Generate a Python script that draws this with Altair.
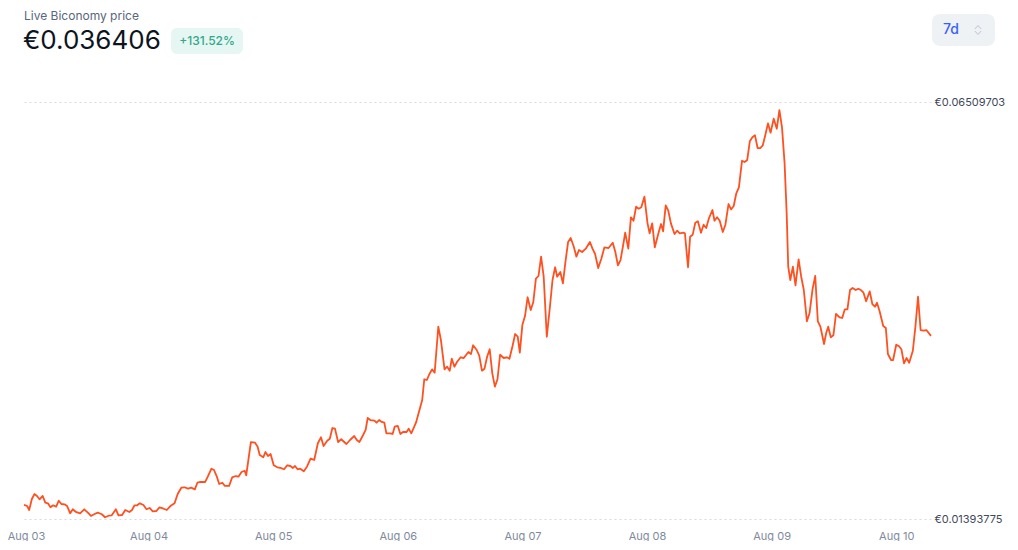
import altair as alt
import pandas as pd

# hours since Aug 03 00:00 and price in EUR
hours = [
    0.0, 0.6, 1.0, 1.5, 2.0, 2.5, 3.0, 3.6, 4.1, 4.6, 5.1, 5.6, 6.2, 6.7, 7.2, 7.8, 8.3, 8.9, 9.4, 10.0,
    10.8, 11.6, 12.3, 12.9, 13.6, 14.2, 15.0, 15.6, 16.3, 16.9, 17.7, 18.2, 18.9, 19.5, 20.3, 20.8, 21.3, 21.8, 22.3, 23.0,
    23.6, 24.2, 24.8, 25.5, 26.1, 26.9, 27.5, 28.2, 29.0, 29.6, 30.3, 30.9, 31.6, 32.2, 32.9, 33.4, 34.0, 34.9, 35.4, 36.1,
    36.6, 37.1, 37.6, 38.2, 38.7, 39.5, 40.1, 40.8, 41.3, 41.9, 42.5, 42.8, 43.7, 44.5, 45.0, 45.4, 46.1, 46.5, 47.0, 47.5,
    48.1, 48.8, 49.4, 50.1, 50.7, 51.3, 51.8, 52.2, 52.7, 53.2, 53.9, 54.5, 55.2, 55.9, 56.6, 57.2, 57.7, 58.4, 58.9, 59.4,
    59.9, 60.5, 61.1, 62.1, 62.8, 63.6, 64.1, 64.6, 65.3, 65.8, 66.2, 66.7, 67.5, 67.9, 68.4, 68.9, 69.4, 69.8, 70.5, 71.0,
    71.4, 72.0, 72.5, 73.0, 73.7, 74.1, 74.6, 75.5, 76.0, 76.7, 77.1, 77.6, 78.1, 78.6, 79.1, 79.8, 80.3, 81.0, 81.5, 82.0,
    82.4, 82.9, 83.4, 84.1, 84.7, 85.6, 86.1, 86.5, 87.2, 87.7, 88.2, 88.7, 89.2, 89.7, 90.2, 90.7, 91.2, 91.7, 92.4, 93.0,
    93.5, 94.1, 94.6, 95.1, 95.5, 96.0, 96.5, 97.0, 97.6, 98.1, 98.6, 99.1, 99.6, 100.1, 100.7, 101.3, 101.8, 102.3, 102.7, 103.3,
    103.8, 104.3, 104.8, 105.3, 105.9, 106.4, 106.9, 107.5, 108.2, 109.0, 109.5, 110.0, 110.6, 111.2, 111.8, 112.6, 113.4, 113.9, 114.4, 114.9,
    115.4, 115.8, 116.4, 116.9, 117.4, 117.9, 118.4, 118.9, 119.5, 120.1, 120.5, 121.0, 121.5, 122.2, 122.7, 123.1, 123.6, 124.1, 124.6, 125.3,
    125.8, 126.3, 127.0, 127.3, 127.9, 128.3, 128.8, 129.3, 129.8, 130.4, 130.9, 131.4, 131.9, 132.6, 133.0, 133.5, 134.0, 134.6, 135.1, 135.7,
    136.2, 136.7, 137.2, 137.7, 138.3, 138.8, 139.3, 139.8, 140.3, 140.8, 141.3, 141.8, 142.3, 142.8, 143.3, 143.8, 144.4, 145.0, 145.5, 146.0,
    146.5, 146.9, 147.2, 147.6, 148.1, 148.6, 149.2, 149.7, 150.2, 150.8, 151.3, 151.9, 152.4, 152.9, 153.4, 154.1, 154.5, 154.9, 155.4, 155.9,
    156.4, 157.1, 157.6, 158.1, 158.6, 159.1, 159.6, 160.2, 160.7, 161.2, 161.7, 162.2, 162.9, 163.4, 163.9, 164.3, 164.8, 165.5, 166.0, 166.4,
    167.0, 167.4, 168.0, 168.5, 169.0, 169.5, 170.0, 170.5, 171.2, 171.7, 172.2, 172.7, 173.3, 173.8, 174.7,
]
prices = [
    0.01566, 0.01553, 0.01504, 0.01636, 0.01700, 0.01676, 0.01636, 0.01676, 0.01594, 0.01586, 0.01537, 0.01562, 0.01545, 0.01618, 0.01578, 0.01574, 0.01553, 0.01464, 0.01513, 0.01480,
    0.01464, 0.01513, 0.01471, 0.01431, 0.01455, 0.01471, 0.01452, 0.01415, 0.01434, 0.01439, 0.01513, 0.01439, 0.01443, 0.01504, 0.01480, 0.01504, 0.01562, 0.01562, 0.01586, 0.01566,
    0.01513, 0.01529, 0.01488, 0.01492, 0.01537, 0.01520, 0.01504, 0.01553, 0.01586, 0.01700, 0.01778, 0.01783, 0.01766, 0.01778, 0.01758, 0.01839, 0.01848, 0.01848, 0.01913, 0.02011,
    0.01995, 0.01921, 0.01823, 0.01839, 0.01799, 0.01799, 0.01905, 0.01921, 0.01913, 0.01970, 0.01986, 0.01930, 0.02338, 0.02330, 0.02281, 0.02179, 0.02151, 0.02216, 0.02167, 0.02191,
    0.02053, 0.02028, 0.02020, 0.02004, 0.02053, 0.02044, 0.02020, 0.02044, 0.02004, 0.02011, 0.01979, 0.02035, 0.02134, 0.02118, 0.02323, 0.02396, 0.02289, 0.02354, 0.02379, 0.02510,
    0.02502, 0.02338, 0.02372, 0.02314, 0.02363, 0.02412, 0.02363, 0.02338, 0.02421, 0.02486, 0.02633, 0.02608, 0.02600, 0.02575, 0.02608, 0.02584, 0.02575, 0.02445, 0.02445, 0.02437,
    0.02526, 0.02535, 0.02437, 0.02461, 0.02461, 0.02502, 0.02445, 0.02575, 0.02691, 0.02854, 0.03108, 0.03099, 0.03173, 0.03230, 0.03189, 0.03753, 0.03590, 0.03230, 0.03262, 0.03213,
    0.03360, 0.03262, 0.03320, 0.03378, 0.03369, 0.03443, 0.03418, 0.03525, 0.03467, 0.03394, 0.03213, 0.03238, 0.03385, 0.03476, 0.03181, 0.03017, 0.03108, 0.03409, 0.03369, 0.03378,
    0.03360, 0.03516, 0.03663, 0.03630, 0.03434, 0.03778, 0.03884, 0.04114, 0.03958, 0.04056, 0.04342, 0.04375, 0.04612, 0.04366, 0.03630, 0.03998, 0.04326, 0.04482, 0.04366, 0.04424,
    0.04285, 0.04555, 0.04792, 0.04841, 0.04734, 0.04612, 0.04694, 0.04669, 0.04710, 0.04792, 0.04710, 0.04645, 0.04473, 0.04587, 0.04727, 0.04718, 0.04783, 0.04669, 0.04506, 0.04571,
    0.04752, 0.04906, 0.04710, 0.05095, 0.05053, 0.05225, 0.05201, 0.05218, 0.05348, 0.05021, 0.04899, 0.05021, 0.04727, 0.04899, 0.05013, 0.04923, 0.05242, 0.05176, 0.05021, 0.04890,
    0.04931, 0.04899, 0.04906, 0.04899, 0.04482, 0.04857, 0.04882, 0.05029, 0.05046, 0.04906, 0.05004, 0.04964, 0.05078, 0.05185, 0.05053, 0.05095, 0.05053, 0.04915, 0.05004, 0.05258,
    0.05193, 0.05234, 0.05390, 0.05463, 0.05789, 0.05774, 0.05798, 0.06027, 0.06077, 0.06101, 0.05945, 0.05945, 0.05978, 0.06108, 0.06248, 0.06133, 0.06305, 0.06182, 0.06411, 0.06199,
    0.05758, 0.05144, 0.04489, 0.04326, 0.04489, 0.04261, 0.04580, 0.04366, 0.04203, 0.03819, 0.03917, 0.04219, 0.04375, 0.03819, 0.03753, 0.03541, 0.03672, 0.03753, 0.03623, 0.03647,
    0.03909, 0.03868, 0.03860, 0.03966, 0.03966, 0.04203, 0.04228, 0.04203, 0.04219, 0.04203, 0.04170, 0.04065, 0.04187, 0.04031, 0.03998, 0.04047, 0.03942, 0.03762, 0.03737, 0.03418,
    0.03344, 0.03344, 0.03532, 0.03516, 0.03476, 0.03304, 0.03369, 0.03311, 0.03458, 0.03753, 0.04121, 0.03712, 0.03704, 0.03712, 0.036406,
]

y_min = 0.01393775
y_max = 0.06509703
axis_values = [y_min, y_max]

title_text = "Live Biconomy price"
price_text = "€0.036406"
change_text = "+131.52%"
range_text = "7d"

FONT = "Inter"
LINE_COLOR = "#ff5020"

df = pd.DataFrame({
    "time": pd.Timestamp("2024-08-03") + pd.to_timedelta(hours, unit="h"),
    "price": prices,
})

one = pd.DataFrame({"k": [0]})

line = alt.Chart(df).mark_line(
    color=LINE_COLOR, strokeWidth=1.8, strokeJoin="round", interpolate="linear"
).encode(
    x=alt.X(
        "time:T",
        title=None,
        scale=alt.Scale(domain=[df["time"].min().isoformat(), df["time"].max().isoformat()], nice=False),
        axis=alt.Axis(
            format="%b %d",
            tickCount={"interval": "day", "step": 1},
            domain=False, ticks=False, tickSize=0, grid=False,
            labelPadding=11, labelFont=FONT, labelFontSize=11, labelColor="#808a9d",
            labelFlush=False,
            labelOffset={"condition": {"test": "datum.index == 0", "value": 2}, "value": 0},
        ),
    ),
    y=alt.Y(
        "price:Q",
        title=None,
        scale=alt.Scale(domain=[y_min, y_max], zero=False, nice=False),
        axis=alt.Axis(
            orient="right",
            values=axis_values,
            labelExpr="'€' + format(datum.value, '.8f')",
            domain=False, ticks=False, tickSize=0,
            grid=True, gridDash=[2, 3], gridColor="#d6dbe1", gridWidth=1,
            labelPadding=3, labelFont=FONT, labelFontSize=11, labelColor="#414a5a",
        ),
    ),
)

title = alt.Chart(one).mark_text(
    align="left", baseline="top", font=FONT, fontSize=12, color="#58667e"
).encode(x=alt.value(0), y=alt.value(-91), text=alt.value(title_text))

price = alt.Chart(one).mark_text(
    align="left", baseline="middle", font=FONT, fontSize=26, color="#0d1421"
).encode(x=alt.value(-1), y=alt.value(-61), text=alt.value(price_text))

badge = alt.Chart(one).mark_rect(cornerRadius=6, color="#e6f6f3").encode(
    x=alt.value(147), x2=alt.value(219), y=alt.value(-74), y2=alt.value(-48)
)
badge_text = alt.Chart(one).mark_text(
    align="center", baseline="middle", font=FONT, fontSize=12, fontWeight=500, color="#32a889"
).encode(x=alt.value(183), y=alt.value(-61), text=alt.value(change_text))

button = alt.Chart(one).mark_rect(cornerRadius=8, color="#eff2f5").encode(
    x=alt.value(908), x2=alt.value(971), y=alt.value(-88), y2=alt.value(-56)
)
button_text = alt.Chart(one).mark_text(
    align="center", baseline="middle", font=FONT, fontSize=14, fontWeight=500, color="#3861fb"
).encode(x=alt.value(927), y=alt.value(-72), text=alt.value(range_text))
chevron = alt.Chart(one).mark_point(
    shape="M-0.6,-0.2L0,-0.85L0.6,-0.2M-0.6,0.2L0,0.85L0.6,0.2",
    filled=False, stroke="#a6b0c3", strokeWidth=1, size=110,
).encode(x=alt.value(954), y=alt.value(-72))

chart = alt.layer(line, title, price, badge, badge_text, button, button_text, chevron).properties(
    width=907,
    height=417,
    padding={"left": 16, "top": 94, "right": 79, "bottom": 22},
    autosize=alt.AutoSizeParams(type="none"),
).configure(background="white").configure_view(strokeWidth=0, stroke="transparent")

chart.save("out.html", embed_options={"renderer": "svg", "actions": False})
